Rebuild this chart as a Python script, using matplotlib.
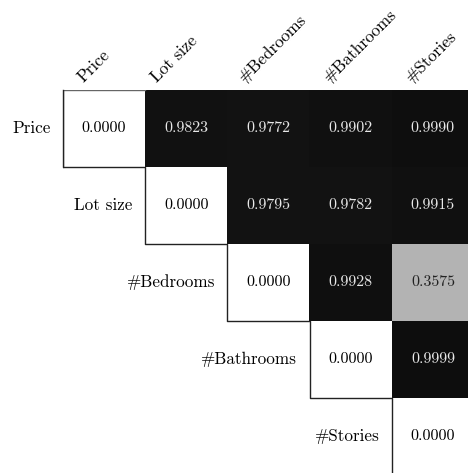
import numpy as np
import matplotlib
matplotlib.use("AGG")
import matplotlib.pyplot as plt

plt.rcParams["font.family"] = ["serif"]
plt.rcParams["font.serif"] = ["cmr10", "DejaVu Serif"]
plt.rcParams["mathtext.fontset"] = "cm"
plt.rcParams["axes.unicode_minus"] = False

names = ["Price", "Lot size", "#Bedrooms", "#Bathrooms", "#Stories"]
# upper triangle (row i, col j>i), diagonal is 0
vals = {
    (0, 1): 0.9823, (0, 2): 0.9772, (0, 3): 0.9902, (0, 4): 0.9990,
    (1, 2): 0.9795, (1, 3): 0.9782, (1, 4): 0.9915,
    (2, 3): 0.9928, (2, 4): 0.3575,
    (3, 4): 0.9999,
}

n = len(names)
mat = np.zeros((n, n))
for (i, j), v in vals.items():
    mat[i, j] = v
mask = np.tril(np.ones((n, n), dtype=bool), k=-1)
shown = np.ma.masked_where(mask, mat)

fig = plt.figure(figsize=(4.68, 4.73), dpi=100)
ax = fig.add_axes([63 / 468, -2 / 473, 411 / 468, 385 / 473])

cmap = plt.get_cmap("gray_r").copy()
cmap.set_bad("white")
cmap.set_under("white")
ax.imshow(shown, cmap=cmap, vmin=0.062, vmax=1.054, aspect="auto",
          interpolation="nearest")
ax.set_xlim(-0.5, n - 0.5)
ax.set_ylim(n - 0.5, -0.5)

for i in range(n):
    for j in range(i, n):
        v = mat[i, j]
        if i == j:
            c = "black"
        elif v > 0.6:
            c = "#e8e8e8"
        else:
            c = "#222222"
        ax.text(j, i, "%.4f" % v, ha="center", va="center", fontsize=11.5, color=c)

# row labels left of the diagonal cells
for i, nm in enumerate(names):
    ax.text(i - 0.5 - 0.15, i, nm, ha="right", va="center", fontsize=12.3)

# column labels on top, rotated (small per-label nudges)
nudge = [0.0, -0.11, -0.04, 0.0, 0.0]
for j, nm in enumerate(names):
    ax.text(j - 0.5 + 0.25 + nudge[j], -0.5 - 0.09, nm, rotation=45,
            rotation_mode="anchor", ha="left", va="baseline", fontsize=12.3,
            clip_on=False)

# border of the first diagonal cell (top + left)
ax.plot([0.5, -0.5, -0.5], [-0.5, -0.5, 0.5], color="#666666", lw=1.0)
# staircase along the diagonal
step_x = [-0.5]
step_y = [-0.5]
for k in range(n):
    step_x += [k - 0.5, k + 0.5]
    step_y += [k + 0.5, k + 0.5]
step_x[-1] = n - 1 - 0.5
step_y[-1] = n - 0.5
ax.plot(step_x, step_y, color="#222222", lw=1.0, clip_on=False)

ax.set_axis_off()
fig.savefig("out.png", dpi=100)
